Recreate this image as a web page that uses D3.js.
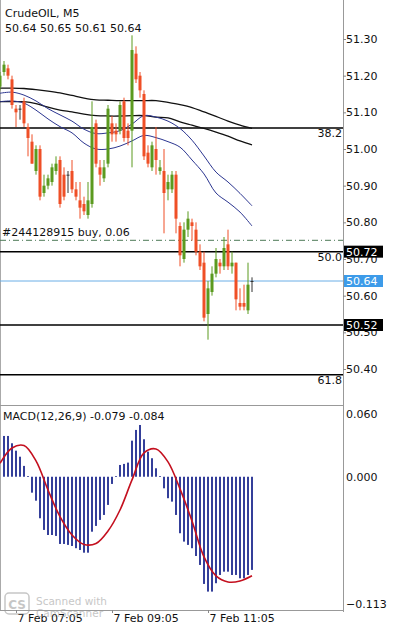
<!DOCTYPE html>
<html>
<head>
<meta charset="utf-8">
<style> body { margin: 0; background: #fff; } svg { display: block; font-family: "DejaVu Sans", sans-serif; } </style>
<script src="https://cdn.jsdelivr.net/npm/d3@7"></script>
</head>
<body>
<svg id="chart" width="393" height="625"></svg>
<script>
// bar index of the first candle (partly hidden behind the left edge)
var firstBar = -1;
var opens  = [51.17,51.21,51.22,51.19,51.11,51.11,51.13,51.06,51.02,50.94,51.00,50.88,50.90,50.91,50.94,50.97,50.93,50.93,50.94,50.89,50.86,50.85,50.82,50.85,51.07,50.95,50.92,50.96,51.07,51.05,51.05,51.13,51.05,51.05,51.26,51.20,51.15,50.99,50.95,51.00,50.94,50.94,50.89,50.89,50.93,50.79,50.70,50.78,50.80,50.78,50.72,50.69,50.55,50.61,50.66,50.69,50.68,50.74,50.68,50.69,50.58,50.58,50.56,50.64];
var highs  = [51.21,51.24,51.23,51.20,51.12,51.12,51.14,51.07,51.04,51.01,51.01,50.93,50.93,50.96,50.98,50.98,50.95,50.94,50.97,50.91,50.91,50.87,50.91,51.13,51.08,50.97,50.97,51.12,51.09,51.07,51.13,51.14,51.07,51.31,51.28,51.21,51.16,51.01,51.02,51.06,50.97,51.00,50.93,50.94,50.94,50.80,50.80,50.83,50.81,50.80,50.74,50.72,50.64,50.68,50.73,50.70,50.76,50.78,50.72,50.69,50.62,50.63,50.69,50.65];
var lows   = [51.16,51.20,51.19,51.11,51.06,51.08,51.06,50.98,50.96,50.93,50.86,50.87,50.89,50.90,50.93,50.84,50.86,50.88,50.88,50.86,50.81,50.82,50.81,50.84,50.95,50.90,50.91,50.95,51.02,51.02,51.04,51.02,51.01,50.95,51.18,51.14,50.97,50.95,50.94,50.93,50.93,50.77,50.86,50.88,50.77,50.68,50.69,50.76,50.75,50.71,50.67,50.53,50.48,50.60,50.65,50.66,50.67,50.67,50.66,50.56,50.56,50.56,50.55,50.61];
var closes = [51.20,51.23,51.20,51.12,51.10,51.11,51.07,51.03,50.96,51.00,50.87,50.90,50.92,50.95,50.96,50.85,50.87,50.93,50.89,50.87,50.84,50.83,50.86,51.06,50.96,50.93,50.95,51.11,51.04,51.04,51.12,51.03,51.03,51.27,51.19,51.16,50.98,50.96,51.01,50.97,50.95,50.88,50.91,50.93,50.81,50.71,50.78,50.81,50.79,50.72,50.68,50.54,50.62,50.66,50.70,50.68,50.73,50.68,50.69,50.59,50.57,50.57,50.63,50.64];

// moving average envelopes, read every 3 bars
var maBars       = [-1,2,5,8,11,14,17,20,23,26,29,32,35,38,41,44,47,50,53,56,59,62];
var maSlowUpper  = [51.166,51.166,51.165,51.162,51.158,51.153,51.146,51.139,51.134,51.133,51.132,51.132,51.132,51.132,51.127,51.121,51.113,51.101,51.089,51.076,51.065,51.056];
var maSlowLower  = [51.129,51.129,51.129,51.124,51.114,51.106,51.101,51.095,51.091,51.090,51.090,51.091,51.091,51.087,51.085,51.074,51.065,51.056,51.046,51.035,51.022,51.011];
var maFastUpper  = [51.152,51.155,51.147,51.131,51.110,51.093,51.076,51.054,51.042,51.044,51.050,51.068,51.091,51.087,51.076,51.056,51.024,50.981,50.937,50.910,50.879,50.845];
var maFastLower  = [51.129,51.131,51.125,51.106,51.082,51.061,51.044,51.016,51.000,51.000,51.008,51.022,51.037,51.031,51.020,51.005,50.970,50.932,50.880,50.855,50.828,50.790];

// MACD histogram from bar 0, signal line at maBars
var macdMain = [0.0346,0.0346,0.0284,0.0221,0.0170,0.0092,0.0005,-0.0135,-0.0203,-0.0352,-0.0451,-0.0494,-0.0494,-0.0502,-0.0570,-0.0570,-0.0578,-0.0587,-0.0606,-0.0621,-0.0644,-0.0644,-0.0466,-0.0417,-0.0366,-0.0324,-0.0239,-0.0061,0.0005,0.0100,0.0109,0.0120,0.0306,0.0397,0.0439,0.0318,0.0213,0.0157,0.0072,0.0005,-0.0098,-0.0182,-0.0211,-0.0324,-0.0479,-0.0550,-0.0578,-0.0606,-0.0672,-0.0748,-0.0909,-0.0974,-0.0974,-0.0903,-0.0833,-0.0805,-0.0805,-0.0833,-0.0833,-0.0861,-0.0861,-0.0833,-0.0790];
var macdSignal = [0.0114,0.0244,0.0265,0.0134,-0.0112,-0.0338,-0.0494,-0.0574,-0.0566,-0.0460,-0.0282,-0.0027,0.0202,0.0236,0.0126,-0.0103,-0.0375,-0.0680,-0.0841,-0.0892,-0.0884,-0.0840];

var priceTicks = [51.30,51.20,51.10,51.00,50.90,50.80,50.70,50.60,50.50,50.40];
var macdTicks = [0.060,0.000,-0.113];
var fibLevels = [51.057,50.72,50.384];
var fibNames = ["38.2","50.0","61.8"];
var levelLines = [50.52];
var tagPrices = [50.72,50.64,50.52];
var bidPrice = 50.64;
var orderPrice = 50.751;
var orderText = "#244128915 buy, 0.06";
var timeBars = [3,27,51];
var timeLabels = ["7 Feb 07:05","7 Feb 09:05","7 Feb 11:05"];
var symbolText = "CrudeOIL, M5";
var ohlcText = "50.64 50.65 50.61 50.64";
var macdText = "MACD(12,26,9) -0.079 -0.084";

var axisX = 343;
var ink = "#111";
var svg = d3.select("#chart");

var x = d3.scaleLinear().domain([0, 62]).range([4, 252]);
var y = d3.scaleLinear().domain([50.52, 51.30]).range([325, 39]);
var ym = d3.scaleLinear().domain([-0.113, 0.060]).range([610, 406]);

var defs = svg.append("defs");
defs.append("clipPath").attr("id", "clipMain").append("rect")
    .attr("x", 0).attr("y", 0).attr("width", axisX).attr("height", 400);
defs.append("clipPath").attr("id", "clipMacd").append("rect")
    .attr("x", 0).attr("y", 406).attr("width", axisX).attr("height", 204);

// frame
svg.append("line").attr("x1", 0.5).attr("x2", 0.5).attr("y1", 0).attr("y2", 610).attr("stroke", "#aaa");
svg.append("line").attr("x1", axisX + 0.5).attr("x2", axisX + 0.5).attr("y1", 0).attr("y2", 612).attr("stroke", "#999");
svg.append("line").attr("x1", 0).attr("x2", axisX).attr("y1", 405.5).attr("y2", 405.5).attr("stroke", "#999");
svg.append("line").attr("x1", 0).attr("x2", axisX).attr("y1", 610.5).attr("y2", 610.5).attr("stroke", "#999");

var main = svg.append("g").attr("clip-path", "url(#clipMain)");

// bid line
main.append("line").attr("x1", 0).attr("x2", axisX)
    .attr("y1", y(bidPrice)).attr("y2", y(bidPrice))
    .attr("stroke", "#6aaee6").attr("stroke-width", 1);

// order line
main.append("line").attr("x1", 0).attr("x2", axisX)
    .attr("y1", y(orderPrice)).attr("y2", y(orderPrice))
    .attr("stroke", "#4d7a57").attr("stroke-width", 1).attr("stroke-dasharray", "6,3,1,3");
main.append("text").attr("x", 2).attr("y", y(orderPrice) - 4)
    .attr("font-size", 11).attr("fill", ink).text(orderText);

// fibo + level lines
main.selectAll(".fib").data(fibLevels).join("line")
    .attr("x1", 0).attr("x2", axisX)
    .attr("y1", d => y(d)).attr("y2", d => y(d))
    .attr("stroke", "#000").attr("stroke-width", 1.5);
main.selectAll(".fibtxt").data(fibLevels).join("text")
    .attr("x", axisX - 1).attr("y", d => y(d) + 9)
    .attr("text-anchor", "end").attr("font-size", 11).attr("fill", ink)
    .text((d, i) => fibNames[i]);
main.selectAll(".lvl").data(levelLines).join("line")
    .attr("x1", 0).attr("x2", axisX)
    .attr("y1", d => y(d)).attr("y2", d => y(d))
    .attr("stroke", "#000").attr("stroke-width", 1.5);

// moving averages
var maLine = function(vals) {
    return d3.line().x((d, i) => x(maBars[i])).y(d => y(d)).curve(d3.curveCatmullRom)(vals);
};
main.append("path").attr("d", maLine(maSlowUpper)).attr("fill", "none").attr("stroke", "#111").attr("stroke-width", 1.3);
main.append("path").attr("d", maLine(maSlowLower)).attr("fill", "none").attr("stroke", "#111").attr("stroke-width", 1.3);
main.append("path").attr("d", maLine(maFastUpper)).attr("fill", "none").attr("stroke", "#2b3590").attr("stroke-width", 1);
main.append("path").attr("d", maLine(maFastLower)).attr("fill", "none").attr("stroke", "#2b3590").attr("stroke-width", 1);

// candles
var candles = opens.map((o, i) => ({ i: firstBar + i, o: o, h: highs[i], l: lows[i], c: closes[i] }));
var candleColor = d => d.c > d.o ? "#5b9a1f" : (d.c < d.o ? "#ef4f26" : "#333");
var cg = main.selectAll(".candle").data(candles).join("g");
cg.append("line")
    .attr("x1", d => x(d.i)).attr("x2", d => x(d.i))
    .attr("y1", d => y(d.h)).attr("y2", d => y(d.l))
    .attr("stroke", candleColor).attr("stroke-width", 1);
cg.append("rect")
    .attr("x", d => x(d.i) - 1.5).attr("width", 3)
    .attr("y", d => y(Math.max(d.o, d.c)))
    .attr("height", d => Math.max(1, Math.abs(y(d.o) - y(d.c))))
    .attr("fill", candleColor);

// price axis
var pAxis = svg.append("g").attr("transform", "translate(" + axisX + ",0)")
    .call(d3.axisRight(y).tickValues(priceTicks).tickSize(3).tickPadding(0).tickFormat(d3.format(".2f")));
pAxis.select(".domain").remove();
pAxis.selectAll("line").attr("stroke", "#888");
pAxis.selectAll("text").attr("font-family", "DejaVu Sans").attr("font-size", 11).attr("fill", ink);

// price tags
var tagColors = ["#000", "#3d9be9", "#000"];
var tg = svg.selectAll(".tag").data(tagPrices).join("g");
tg.append("rect").attr("x", axisX + 1).attr("y", d => y(d) - 6)
    .attr("width", 39).attr("height", 12).attr("fill", (d, i) => tagColors[i]);
tg.append("text").attr("x", axisX + 3).attr("y", d => y(d)).attr("dy", "0.36em")
    .attr("font-size", 11).attr("fill", "#fff").text(d => d3.format(".2f")(d));

// MACD
var mg = svg.append("g").attr("clip-path", "url(#clipMacd)");
mg.selectAll(".bar").data(macdMain).join("rect")
    .attr("x", (d, i) => x(i) - 0.9).attr("width", 1.8)
    .attr("y", d => ym(Math.max(0, d)))
    .attr("height", d => Math.max(0.8, Math.abs(ym(d) - ym(0))))
    .attr("fill", "#1f2b8f");
mg.append("path")
    .attr("d", d3.line().x((d, i) => x(maBars[i])).y(d => ym(d)).curve(d3.curveCatmullRom)(macdSignal))
    .attr("fill", "none").attr("stroke", "#c4101f").attr("stroke-width", 1.6);

var mAxis = svg.append("g").attr("transform", "translate(" + axisX + ",0)")
    .call(d3.axisRight(ym).tickValues(macdTicks).tickSize(0).tickPadding(3).tickFormat(d3.format(".3f")));
mAxis.select(".domain").remove();
mAxis.selectAll("text").attr("font-family", "DejaVu Sans").attr("font-size", 11).attr("fill", ink)
    .attr("dy", (d, i) => i == 0 ? "1.0em" : (i == 2 ? "-0.25em" : "0.32em"));

// time axis
var tAxis = svg.append("g").attr("transform", "translate(0,610)")
    .call(d3.axisBottom(x).tickValues(timeBars).tickSize(3).tickPadding(1).tickFormat((d, i) => timeLabels[i]));
tAxis.select(".domain").remove();
tAxis.selectAll("line").attr("stroke", "#888");
tAxis.selectAll("text").attr("font-family", "DejaVu Sans").attr("font-size", 11).attr("fill", ink)
    .attr("text-anchor", "start").attr("x", 1);

// titles
svg.append("text").attr("x", 5).attr("y", 17).attr("font-size", 11).attr("fill", ink).text(symbolText);
svg.append("text").attr("x", 5).attr("y", 32).attr("font-size", 11).attr("fill", ink).text(ohlcText);
svg.append("text").attr("x", 3).attr("y", 420).attr("font-size", 11).attr("fill", ink).text(macdText);

// scanner watermark
var wm = svg.append("g").attr("opacity", 0.55);
wm.append("rect").attr("x", 5).attr("y", 593).attr("width", 24).attr("height", 21).attr("rx", 4)
    .attr("fill", "none").attr("stroke", "#999").attr("stroke-width", 1.5);
wm.append("text").attr("x", 17).attr("y", 608.5).attr("text-anchor", "middle")
    .attr("font-size", 12).attr("font-weight", "bold").attr("fill", "#999").text("CS");
wm.append("text").attr("x", 36).attr("y", 605).attr("font-size", 10.5).attr("fill", "#999").text("Scanned with");
wm.append("text").attr("x", 36).attr("y", 617).attr("font-size", 10.5).attr("fill", "#999").text("CamScanner");
</script>
</body>
</html>
